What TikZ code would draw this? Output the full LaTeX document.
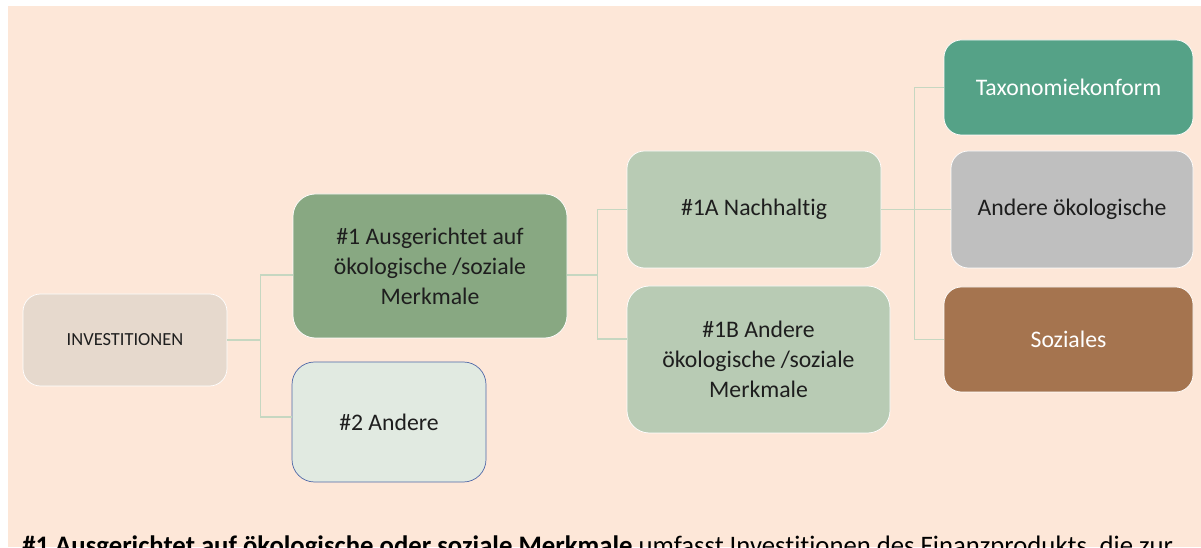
\documentclass[tikz,border=0pt]{standalone}
\usepackage{fontspec}
\setmainfont{Carlito}[Ligatures=NoCommon]
\usepackage{tikz}
\usetikzlibrary{positioning}

\definecolor{peach}{HTML}{FDE7D8}
\definecolor{invbrown}{HTML}{E6D9CD}
\definecolor{darkgreen}{HTML}{88A882}
\definecolor{palegreen}{HTML}{E1EAE1}
\definecolor{borderblue}{HTML}{5068A8}
\definecolor{sagegreen}{HTML}{B8CBB4}
\definecolor{taxgreen}{HTML}{55A287}
\definecolor{greybox}{HTML}{BFBFBF}
\definecolor{brownbox}{HTML}{A5744F}
\definecolor{linkgreen}{HTML}{C6D7C1}
\definecolor{textdark}{HTML}{1E1E1E}

\begin{document}
\begin{tikzpicture}[
            font = \fontsize{13.5}{17}\selectfont, % text size of the boxes
            text = textdark
        ]

        \tikzstyle{box}=[
            draw = white,
            thin,
            rounded corners = 3.5mm,
            align = center,
            inner sep = 2pt
        ]
        \tikzstyle{link}=[
            draw = linkgreen,
            line width = 0.9pt
        ]

        \useasboundingbox (0,0) rectangle (24.02,10.94);
        \fill[white] (0,0) rectangle (24.02,10.94);
        \fill[peach] (0.16,0) rectangle (24.02,10.82);

        \node[box, fill=invbrown, minimum width=4.08cm, minimum height=1.84cm, font=\fontsize{10.5}{12}\selectfont] (inv) at (2.5,4.14) {INVESTITIONEN};
        \node[box, fill=darkgreen, minimum width=5.48cm, minimum height=2.88cm, rounded corners=4.5mm] (one) at (8.6,5.62) {\#1 Ausgerichtet auf\\ökologische /soziale\\Merkmale};
        \node[box, draw=borderblue, fill=palegreen, minimum width=3.88cm, minimum height=2.4cm, rounded corners=4.5mm] (two) at (7.78,2.5) {\#2 Andere};
        \node[box, fill=sagegreen, minimum width=5.08cm, minimum height=2.34cm] (oneA) at (15.08,6.75) {\#1A Nachhaltig};
        \node[box, fill=sagegreen, minimum width=5.26cm, minimum height=2.94cm, rounded corners=4.5mm] (oneB) at (15.17,3.75) {\#1B Andere\\ökologische /soziale\\Merkmale};
        \node[box, fill=taxgreen, text=white, minimum width=4.98cm, minimum height=1.9cm] (tax) at (21.37,9.19) {Taxonomiekonform};
        \node[box, fill=greybox, minimum width=4.84cm, minimum height=2.34cm] (eco) at (21.44,6.75) {Andere ökologische};
        \node[box, fill=brownbox, text=white, minimum width=4.98cm, minimum height=2.1cm] (soc) at (21.37,4.15) {Soziales};

        % elbow connectors
        \draw[link] (inv.east) -- ++(0.66,0) |- ([yshift=-0.18cm]one.west);
        \draw[link] (inv.east) -- ++(0.66,0) |- ([yshift=0.1cm]two.west);
        \draw[link] ([yshift=-0.18cm]one.east) -- ++(0.6,0) |- (oneA.west);
        \draw[link] ([yshift=-0.18cm]one.east) -- ++(0.6,0) |- ([yshift=0.41cm]oneB.west);
        \draw[link] (oneA.east) -- ++(0.66,0) |- (tax.west);
        \draw[link] (oneA.east) -- ++(0.66,0) |- (eco.west);
        \draw[link] (oneA.east) -- ++(0.66,0) |- (soc.west);

        \node[anchor=base west, inner sep=0pt, text=black, font=\fontsize{15.2}{18}\selectfont] (note) at (0.44,-0.14) {\textbf{\#1 Ausgerichtet auf ökologische oder soziale Merkmale} umfasst Investitionen des Finanzprodukts, die zur};
    \end{tikzpicture}
\end{document}
